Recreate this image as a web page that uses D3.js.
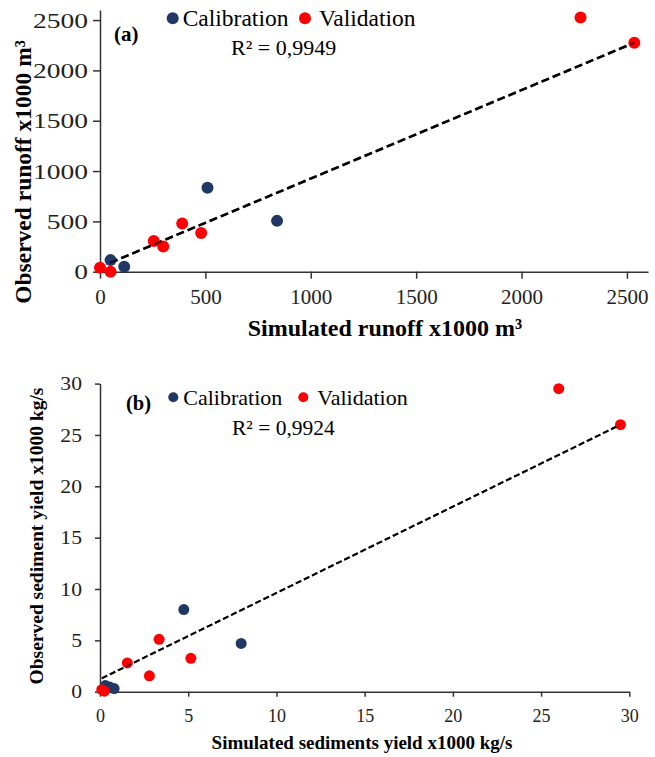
<!DOCTYPE html>
<html>
<head>
<meta charset="utf-8">
<script src="https://cdn.jsdelivr.net/npm/d3@7"></script>
<style>
  body { margin: 0; background: #fff; }
  svg { display: block; font-family: "Liberation Serif", "Times New Roman", serif; }
</style>
</head>
<body>
<div id="chart"></div>
<script>
// panel (a) runoff, x1000 m3
var calA_x = [50, 115, 510, 840]
var calA_y = [115, 50, 835, 505]
var valA_x = [0, 50, 255, 300, 390, 480, 2280, 2535]
var valA_y = [40, 0, 305, 250, 480, 385, 2525, 2275]
var trendA_x = [48, 2535]
var trendA_y = [88, 2275]
var ticksA = [0, 500, 1000, 1500, 2000, 2500]

// panel (b) sediment yield, x1000 kg/s
var calB_x = [0.3, 0.55, 0.8, 4.75, 8.0]
var calB_y = [0.6, 0.45, 0.3, 8.0, 4.7]
var valB_x = [0.1, 0.25, 1.55, 2.8, 3.35, 5.15, 26.0, 29.5]
var valB_y = [0.2, 0.05, 2.8, 1.55, 5.1, 3.25, 29.5, 26.0]
var trendB_x = [0.1, 29.5]
var trendB_y = [1.3, 26.0]
var ticksB = [0, 5, 10, 15, 20, 25, 30]

var navy = "#203864", red = "#ff0000"

var width = 655, height = 757
var svg = d3.select("#chart").append("svg")
    .attr("width", width)
    .attr("height", height)

function zip(xs, ys) { return xs.map(function(x, i) { return [x, ys[i]] }) }

function drawPanel(o) {
    var g = svg.append("g")
    var x = d3.scaleLinear().domain(o.xDomain).range(o.xRange)
    var y = d3.scaleLinear().domain(o.yDomain).range(o.yRange)

    // x axis
    var xa = g.append("g")
        .attr("transform", "translate(0," + o.yRange[0] + ")")
        .call(d3.axisBottom(x).tickValues(o.ticks).tickFormat(d3.format("d"))
            .tickSizeInner(o.tickLen).tickSizeOuter(0))
        .attr("font-family", "Liberation Serif")
    xa.selectAll("text")
        .attr("y", o.xLabOff).attr("dy", 0)
        .style("font-size", o.xTickSize + "px")
        .attr("fill", "#222")

    // y axis
    var ya = g.append("g")
        .attr("transform", "translate(" + o.xRange[0] + ",0)")
        .call(d3.axisLeft(y).tickValues(o.ticks).tickFormat(d3.format("d"))
            .tickSizeInner(o.tickLen).tickSizeOuter(0))
        .attr("font-family", "Liberation Serif")
    ya.selectAll("text")
        .attr("x", -o.yLabPad / o.yStretch)
        .attr("transform", "scale(" + o.yStretch + ",1)")
        .style("font-size", o.yTickSize + "px")
        .attr("fill", "#222")

    g.selectAll(".domain, .tick line").attr("stroke", "#333").attr("stroke-width", 1.5)

    var line = d3.line().x(d => x(d[0])).y(d => y(d[1]))

    // trend line
    g.append("path")
        .datum(zip(o.trend[0], o.trend[1]))
        .attr("d", line)
        .attr("fill", "none")
        .attr("stroke", "#000")
        .attr("stroke-width", o.dashW)
        .attr("stroke-dasharray", o.dash)

    // points
    g.selectAll(".cal").data(zip(o.cal[0], o.cal[1])).enter().append("circle")
        .attr("cx", d => x(d[0])).attr("cy", d => y(d[1])).attr("r", o.r).attr("fill", navy)
    g.selectAll(".val").data(zip(o.val[0], o.val[1])).enter().append("circle")
        .attr("cx", d => x(d[0])).attr("cy", d => y(d[1])).attr("r", o.r).attr("fill", red)
    // line shows through the points a little in the original
    g.append("path")
        .datum(zip(o.trend[0], o.trend[1]))
        .attr("d", line)
        .attr("fill", "none")
        .attr("stroke", "#000")
        .attr("stroke-width", o.dashW)
        .attr("stroke-dasharray", o.dash)
        .attr("opacity", 0.6)

    // legend
    var lg = g.append("g").style("font-size", o.legSize + "px")
    lg.append("circle").attr("cx", o.leg[0]).attr("cy", o.leg[1]).attr("r", o.legR).attr("fill", navy)
    lg.append("text").attr("x", o.leg[0] + 10).attr("y", o.leg[1] + o.legSize * 0.33).text("Calibration")
    lg.append("circle").attr("cx", o.leg[2]).attr("cy", o.leg[1]).attr("r", o.legR).attr("fill", red)
    lg.append("text").attr("x", o.leg[2] + 14).attr("y", o.leg[1] + o.legSize * 0.33).text("Validation")

    // panel tag and R2
    g.append("text").attr("x", o.tag[0]).attr("y", o.tag[1])
        .style("font-size", o.tagSize + "px").style("font-weight", "bold").text(o.tagText)
    g.append("text").attr("x", o.r2[0]).attr("y", o.r2[1])
        .style("font-size", o.r2Size + "px").text(o.r2Text)

    // axis titles
    g.append("text")
        .attr("x", o.xTitle[0]).attr("y", o.xTitle[1])
        .attr("text-anchor", "middle")
        .style("font-size", o.titleSize[0] + "px").style("font-weight", "bold")
        .text(o.xTitleText)
    g.append("text")
        .attr("transform", "translate(" + o.yTitle[0] + "," + o.yTitle[1] + ") rotate(-90)")
        .attr("text-anchor", "middle")
        .style("font-size", o.titleSize[1] + "px").style("font-weight", "bold")
        .text(o.yTitleText)
}

drawPanel({
    xDomain: [0, 2600], xRange: [100, 648],
    yDomain: [0, 2600], yRange: [271.7, 10],
    ticks: ticksA, tickLen: 7,
    xLabOff: 32, xTickSize: 21,
    yLabPad: 12, yTickSize: 22, yStretch: 1.25,
    cal: [calA_x, calA_y], val: [valA_x, valA_y], trend: [trendA_x, trendA_y],
    r: 6, dashW: 2.5, dash: "8,4",
    leg: [172.7, 18.3, 305], legR: 6, legSize: 23.5,
    tag: [114, 41], tagSize: 21, tagText: "(a)",
    r2: [231, 55], r2Size: 22, r2Text: "R² = 0,9949",
    xTitle: [385, 336], yTitle: [31, 172], titleSize: [24, 23.5],
    xTitleText: "Simulated runoff x1000 m³",
    yTitleText: "Observed runoff x1000 m³"
})

drawPanel({
    xDomain: [0, 30], xRange: [100, 629.3],
    yDomain: [0, 30], yRange: [691.7, 383.6],
    ticks: ticksB, tickLen: 5,
    xLabOff: 30, xTickSize: 18,
    yLabPad: 18, yTickSize: 19, yStretch: 1.14,
    cal: [calB_x, calB_y], val: [valB_x, valB_y], trend: [trendB_x, trendB_y],
    r: 5.5, dashW: 2, dash: "6,3",
    leg: [173.3, 397.3, 303.3], legR: 5, legSize: 22,
    tag: [126, 410], tagSize: 20.5, tagText: "(b)",
    r2: [232, 435], r2Size: 21.5, r2Text: "R² = 0,9924",
    xTitle: [362, 749], yTitle: [43, 536], titleSize: [19, 19.5],
    xTitleText: "Simulated sediments yield x1000 kg/s",
    yTitleText: "Observed sediment yield x1000 kg/s"
})
</script>
</body>
</html>
